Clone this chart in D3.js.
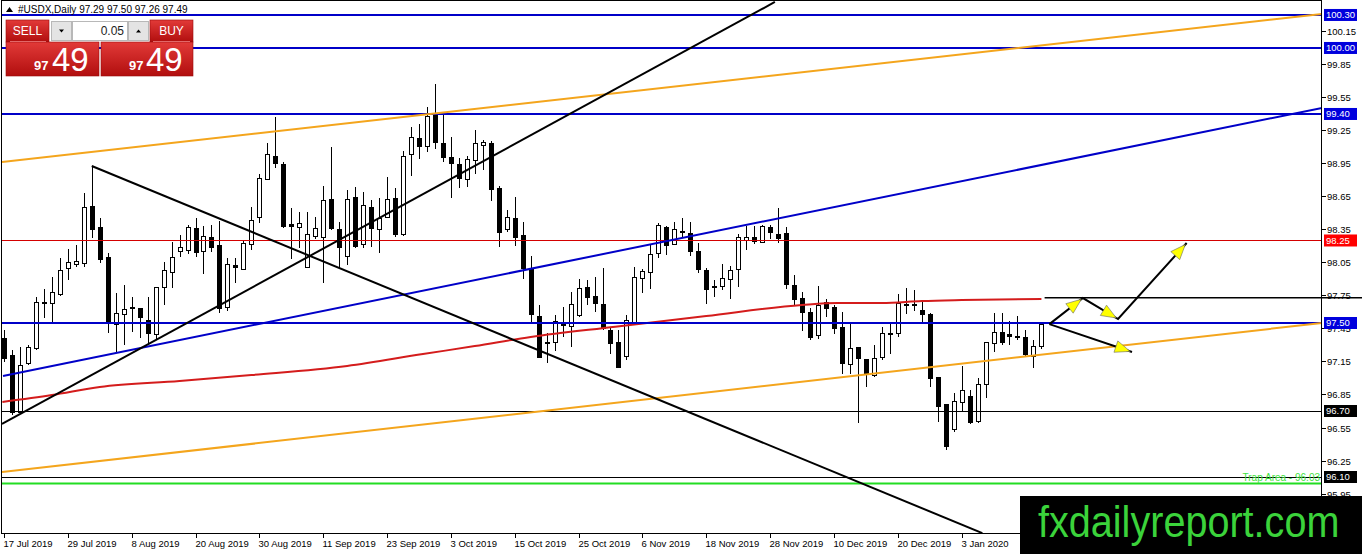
<!DOCTYPE html>
<html>
<head>
<meta charset="utf-8">
<script src="https://cdn.jsdelivr.net/npm/d3@7.9.0/dist/d3.min.js"></script>
<style>
  html, body { margin: 0; padding: 0; background: #fff; }
  svg { display: block; font-family: "Liberation Sans", Arial, sans-serif; }
</style>
</head>
<body>
<div id="chart"></div>
<script>
// daily candles, one row per bar: [open, high, low, close]
const candles = [
  [97.364, 97.436, 97.145, 97.182], [97.209, 97.255, 96.664, 96.691], [96.691, 97.282, 96.682, 97.118],
  [97.136, 97.300, 97.118, 97.282], [97.273, 97.736, 97.255, 97.691], [97.691, 97.809, 97.545, 97.682],
  [97.682, 97.918, 97.509, 97.782], [97.764, 98.091, 97.745, 97.982], [98.000, 98.173, 97.891, 98.055],
  [98.036, 98.209, 98.009, 98.064], [98.045, 98.682, 98.009, 98.555], [98.564, 98.927, 98.273, 98.355],
  [98.373, 98.455, 98.045, 98.082], [98.100, 98.136, 97.409, 97.500], [97.491, 97.773, 97.227, 97.591],
  [97.582, 97.845, 97.300, 97.627], [97.645, 97.736, 97.418, 97.636], [97.636, 97.636, 97.364, 97.555],
  [97.527, 97.736, 97.300, 97.409], [97.400, 97.827, 97.345, 97.827], [97.827, 98.055, 97.664, 97.982],
  [97.964, 98.236, 97.818, 98.100], [98.155, 98.300, 98.100, 98.191], [98.164, 98.391, 98.127, 98.373],
  [98.364, 98.455, 98.100, 98.145], [98.155, 98.382, 97.945, 98.291], [98.282, 98.391, 98.145, 98.191],
  [98.209, 98.427, 97.591, 97.636], [97.645, 98.091, 97.609, 98.036], [98.027, 98.091, 97.864, 98.009],
  [97.991, 98.255, 97.982, 98.227], [98.218, 98.555, 98.164, 98.436], [98.464, 98.855, 98.409, 98.818],
  [98.809, 99.136, 98.800, 99.036], [99.018, 99.373, 98.909, 98.955], [98.945, 98.964, 98.364, 98.382],
  [98.400, 98.545, 98.082, 98.382], [98.373, 98.509, 98.182, 98.409], [98.009, 98.509, 98.009, 98.309],
  [98.291, 98.464, 98.264, 98.364], [98.282, 98.745, 97.864, 98.618], [98.627, 99.100, 98.345, 98.364],
  [98.355, 98.418, 98.000, 98.191], [98.109, 98.709, 98.027, 98.627], [98.645, 98.736, 98.182, 98.200],
  [98.218, 98.691, 98.182, 98.573], [98.555, 98.618, 98.191, 98.364], [98.355, 98.636, 98.136, 98.455],
  [98.464, 98.827, 98.455, 98.627], [98.636, 98.727, 98.282, 98.309], [98.309, 99.064, 98.291, 99.018],
  [99.036, 99.282, 98.836, 99.191], [99.182, 99.309, 98.991, 99.109], [99.109, 99.464, 99.055, 99.382],
  [99.400, 99.673, 99.082, 99.145], [99.136, 99.400, 98.964, 99.009], [99.009, 99.191, 98.636, 98.955],
  [98.945, 99.000, 98.727, 98.818], [98.809, 99.018, 98.736, 98.991], [98.982, 99.255, 98.855, 99.136],
  [99.118, 99.164, 98.891, 99.145], [99.136, 99.155, 98.609, 98.718], [98.727, 98.745, 98.191, 98.327],
  [98.355, 98.527, 98.327, 98.464], [98.455, 98.645, 98.200, 98.282], [98.300, 98.418, 97.900, 98.000],
  [97.991, 98.109, 97.509, 97.582], [97.564, 97.664, 97.182, 97.191], [97.327, 97.409, 97.136, 97.318],
  [97.327, 97.573, 97.245, 97.518], [97.509, 97.645, 97.373, 97.482], [97.473, 97.782, 97.282, 97.673],
  [97.573, 97.900, 97.555, 97.818], [97.827, 97.891, 97.664, 97.736], [97.745, 97.918, 97.600, 97.682],
  [97.673, 98.000, 97.436, 97.455], [97.436, 97.455, 97.218, 97.318], [97.327, 97.436, 97.091, 97.100],
  [97.200, 97.573, 97.164, 97.527], [97.509, 98.009, 97.500, 97.918], [97.909, 97.991, 97.773, 97.973],
  [97.964, 98.209, 97.809, 98.127], [98.136, 98.409, 98.091, 98.391], [98.373, 98.382, 98.118, 98.209],
  [98.218, 98.418, 98.209, 98.355], [98.327, 98.455, 98.282, 98.336], [98.318, 98.418, 98.109, 98.155],
  [98.155, 98.227, 97.955, 97.991], [97.982, 98.000, 97.673, 97.809], [97.836, 97.891, 97.736, 97.827],
  [97.836, 98.036, 97.800, 97.909], [97.900, 98.018, 97.718, 97.982], [97.991, 98.309, 97.827, 98.282],
  [98.255, 98.382, 98.164, 98.282], [98.282, 98.382, 98.218, 98.245], [98.236, 98.391, 98.227, 98.382],
  [98.373, 98.391, 98.264, 98.327], [98.309, 98.545, 98.227, 98.273], [98.318, 98.373, 97.809, 97.855],
  [97.845, 97.936, 97.664, 97.718], [97.727, 97.782, 97.427, 97.600], [97.600, 97.636, 97.345, 97.373],
  [97.391, 97.836, 97.355, 97.664], [97.691, 97.718, 97.555, 97.636], [97.645, 97.664, 97.400, 97.455],
  [97.464, 97.600, 97.036, 97.136], [97.127, 97.509, 97.036, 97.273], [97.282, 97.282, 96.591, 97.182],
  [97.173, 97.173, 96.918, 97.045], [97.027, 97.300, 97.009, 97.182], [97.191, 97.464, 97.164, 97.409],
  [97.400, 97.500, 97.218, 97.409], [97.409, 97.764, 97.373, 97.682], [97.673, 97.818, 97.582, 97.664],
  [97.673, 97.800, 97.609, 97.664], [97.618, 97.700, 97.491, 97.582], [97.582, 97.591, 96.918, 97.000],
  [97.009, 97.009, 96.600, 96.745], [96.764, 96.764, 96.345, 96.382], [96.536, 96.864, 96.509, 96.791],
  [96.782, 97.109, 96.700, 96.891], [96.836, 96.891, 96.582, 96.600], [96.609, 97.000, 96.591, 96.945],
  [96.945, 97.327, 96.818, 97.327], [97.318, 97.591, 97.236, 97.418], [97.418, 97.591, 97.300, 97.327],
  [97.400, 97.518, 97.300, 97.382], [97.382, 97.564, 97.345, 97.373], [97.373, 97.436, 97.200, 97.218],
  [97.200, 97.345, 97.091, 97.291], [97.29, 97.50, 97.26, 97.49]
];

// moving average: [bar index, value]
const maPoints = [
  [-0.2, 96.782], [6, 96.845], [12, 96.918], [22, 96.973], [31, 97.027], [43, 97.109],
  [52.5, 97.218], [59, 97.29], [66, 97.373], [76.6, 97.466], [88, 97.564], [100, 97.664],
  [104.5, 97.682], [110, 97.682], [115, 97.70], [120, 97.709], [130, 97.718]
];

// date labels, one every 8 bars
const dateLabels = ['17 Jul 2019', '29 Jul 2019', '8 Aug 2019', '20 Aug 2019', '30 Aug 2019',
  '11 Sep 2019', '23 Sep 2019', '3 Oct 2019', '15 Oct 2019', '25 Oct 2019', '6 Nov 2019',
  '18 Nov 2019', '28 Nov 2019', '10 Dec 2019', '20 Dec 2019', '3 Jan 2020'];
const priceTicks = [95.95, 96.25, 96.55, 96.85, 97.15, 97.45, 97.75, 98.05, 98.35,
  98.65, 98.95, 99.25, 99.55, 99.85, 100.15];

// horizontal levels
const blueLevels = [100.30, 100.00, 99.40, 97.50];
const redLevels = [98.25];
const blackLevels = [96.70, 96.10];
const trapLevel = 96.04;
const pivotLevel = [130.4, 97.73]; // starts at the last bar

// trend lines: two anchors each, [bar index, price]
const orangeUpper = [[-0.25, 98.964], [165.16, 100.309]];
const orangeLower = [[-0.25, 96.145], [165.16, 97.50]];
const blueTrend = [[-0.125, 97.018], [165.16, 99.455]];
const blackRising = [[-0.25, 96.582], [96.6, 100.418]];
const blackFalling = [[11, 98.927], [122.6, 95.59]];

// scenario arrows
const arrowUp = [[131, 97.49], [135.2, 97.727], [139.6, 97.536], [148.2, 98.227]];
const arrowDown = [[131, 97.49], [141.35, 97.236]];

const W = 1362, H = 554;
const plot = { left: 2, right: 1322, top: 1, bottom: 533 };

const x = d3.scaleLinear().domain([-0.25, 165.16]).range([plot.left, plot.right]);
const y = d3.scaleLinear().domain([95.591, 100.427]).range([plot.bottom, plot.top]);

const svg = d3.select('#chart').append('svg')
  .attr('width', W).attr('height', H).attr('viewBox', `0 0 ${W} ${H}`);

const defs = svg.append('defs');
defs.append('clipPath').attr('id', 'plotClip').append('rect')
  .attr('x', plot.left).attr('y', plot.top)
  .attr('width', plot.right - plot.left).attr('height', plot.bottom - plot.top);
const grad = defs.append('linearGradient').attr('id', 'redGrad')
  .attr('x1', 0).attr('y1', 0).attr('x2', 0).attr('y2', 1);
grad.append('stop').attr('offset', '0%').attr('stop-color', '#e23a38');
grad.append('stop').attr('offset', '100%').attr('stop-color', '#b10e0e');

const chart = svg.append('g').attr('clip-path', 'url(#plotClip)');

// candles
const cg = chart.append('g').attr('shape-rendering', 'crispEdges');
candles.forEach(([o, h, l, c], i) => {
  const cx = Math.round(x(i)) + 0.5;
  cg.append('line').attr('x1', cx).attr('x2', cx)
    .attr('y1', y(h)).attr('y2', y(l)).attr('stroke', '#000');
  const top = Math.round(y(Math.max(o, c))) + 0.5;
  const bot = Math.round(y(Math.min(o, c))) + 0.5;
  cg.append('rect').attr('x', cx - 2).attr('y', top)
    .attr('width', 4).attr('height', Math.max(bot - top, 1))
    .attr('fill', c >= o ? '#fff' : '#000').attr('stroke', '#000');
});

const seg = (pts) => d3.line().x(d => x(d[0])).y(d => y(d[1]))(pts);

// moving average
chart.append('path').attr('d', d3.line().curve(d3.curveMonotoneX)
    .x(d => x(d[0])).y(d => y(d[1]))(maPoints))
  .attr('fill', 'none').attr('stroke', '#d41c1c').attr('stroke-width', 2);

// levels
const hline = (v, color, w) => {
  const ly = w === 1 ? Math.round(y(v)) + 0.5 : y(v);
  chart.append('line')
    .attr('x1', plot.left).attr('x2', plot.right).attr('y1', ly).attr('y2', ly)
    .attr('stroke', color).attr('stroke-width', w)
    .attr('shape-rendering', w === 1 ? 'crispEdges' : null);
};
redLevels.forEach(v => hline(v, '#d40000', 1));
blackLevels.forEach(v => hline(v, '#000', 1));
hline(trapLevel, '#22dd22', 2);
blueLevels.forEach(v => hline(v, '#0000c8', 2));

// trend lines
[[orangeUpper, '#f4a51c'], [orangeLower, '#f4a51c'], [blueTrend, '#0000c8'],
 [blackRising, '#000'], [blackFalling, '#000']].forEach(([pts, color]) => {
  chart.append('path').attr('d', seg(pts)).attr('fill', 'none')
    .attr('stroke', color).attr('stroke-width', 2);
});

chart.append('text').attr('x', plot.right - 2).attr('y', y(trapLevel) - 2.5)
  .attr('text-anchor', 'end').attr('font-size', 10).attr('fill', '#3ee23e')
  .text('Trap Area - 96.03');

// frame and axes
svg.append('rect').attr('x', plot.left - 0.5).attr('y', plot.top - 0.5)
  .attr('width', plot.right - plot.left).attr('height', plot.bottom - plot.top + 0.5)
  .attr('fill', 'none').attr('stroke', '#000').attr('shape-rendering', 'crispEdges');

const xa = svg.append('g').attr('font-size', 9.5).attr('fill', '#000');
dateLabels.forEach((lab, k) => {
  const tx = Math.round(x(k * 8)) + 0.5;
  xa.append('line').attr('x1', tx).attr('x2', tx).attr('y1', plot.bottom).attr('y2', plot.bottom + 5)
    .attr('stroke', '#000').attr('shape-rendering', 'crispEdges');
  xa.append('text').attr('x', tx - 1).attr('y', plot.bottom + 14).text(lab);
});

const ya = svg.append('g').attr('font-size', 9.5);
priceTicks.forEach(v => {
  const ty = Math.round(y(v)) + 0.5;
  ya.append('line').attr('x1', plot.right).attr('x2', plot.right + 4).attr('y1', ty).attr('y2', ty)
    .attr('stroke', '#000').attr('shape-rendering', 'crispEdges');
  ya.append('text').attr('x', plot.right + 5).attr('y', ty).attr('dy', '0.35em').text(v.toFixed(2));
});

// short pivot line runs over the axis
svg.append('line').attr('x1', x(pivotLevel[0])).attr('x2', W)
  .attr('y1', y(pivotLevel[1])).attr('y2', y(pivotLevel[1]))
  .attr('stroke', '#000').attr('stroke-width', 1.5);

// boxed level labels
const tag = (v, bg) => {
  const ty = y(v);
  ya.append('rect').attr('x', plot.right + 2).attr('y', ty - 6).attr('width', 33).attr('height', 12)
    .attr('fill', bg);
  ya.append('text').attr('x', plot.right + 4).attr('y', ty).attr('dy', '0.35em')
    .attr('fill', '#fff').text(v.toFixed(2));
};
blueLevels.forEach(v => tag(v, '#0000dd'));
redLevels.forEach(v => tag(v, '#ff0000'));
blackLevels.forEach(v => tag(v, '#000'));

// arrows
const arrows = svg.append('g');
[arrowUp, arrowDown].forEach(pts => {
  arrows.append('path').attr('d', seg(pts)).attr('fill', 'none')
    .attr('stroke', '#000').attr('stroke-width', 2);
  for (let k = 1; k < pts.length; k++) {
    const x0 = x(pts[k - 1][0]), y0 = y(pts[k - 1][1]);
    const x1 = x(pts[k][0]), y1 = y(pts[k][1]);
    const len = Math.hypot(x1 - x0, y1 - y0);
    const ux = (x1 - x0) / len, uy = (y1 - y0) / len;
    const tx = x1 - ux * 2, ty = y1 - uy * 2;
    const bx = tx - ux * 15, by = ty - uy * 15;
    arrows.append('path')
      .attr('d', `M${tx},${ty}L${bx - uy * 6},${by + ux * 6}L${bx + uy * 6},${by - ux * 6}Z`)
      .attr('fill', '#ffff00').attr('stroke', '#666').attr('stroke-width', 0.6);
  }
});

// header
const head = svg.append('g');
head.append('path').attr('d', 'M6,12L9.5,7L13,12Z').attr('fill', '#000');
head.append('text').attr('x', 18).attr('y', 13).attr('font-size', 10)
  .text('#USDX,Daily  97.29 97.50 97.26 97.49');

// one-click trading panel
const panel = svg.append('g');
const redBox = (bx, by, bw, bh) => panel.append('rect').attr('x', bx).attr('y', by)
  .attr('width', bw).attr('height', bh).attr('fill', 'url(#redGrad)')
  .attr('stroke', '#9a0a0a').attr('stroke-width', 0.6);
redBox(6, 20, 43, 22);
redBox(150, 20, 43, 22);
redBox(6, 42, 93, 34);
redBox(101, 42, 92, 34);
panel.append('line').attr('x1', 10).attr('x2', 46).attr('y1', 41.5).attr('y2', 41.5)
  .attr('stroke', '#f08080').attr('stroke-width', 0.8);
panel.append('line').attr('x1', 153).attr('x2', 190).attr('y1', 41.5).attr('y2', 41.5)
  .attr('stroke', '#f08080').attr('stroke-width', 0.8);
panel.append('rect').attr('x', 51.5).attr('y', 21.5).attr('width', 20).attr('height', 19)
  .attr('fill', '#e4e4e4').attr('stroke', '#b8b8b8');
panel.append('rect').attr('x', 72.5).attr('y', 21.5).attr('width', 55).attr('height', 19)
  .attr('fill', '#fff').attr('stroke', '#b8b8b8');
panel.append('rect').attr('x', 128.5).attr('y', 21.5).attr('width', 20).attr('height', 19)
  .attr('fill', '#e4e4e4').attr('stroke', '#b8b8b8');
panel.append('path').attr('d', 'M59,29.5L64,29.5L61.5,32.5Z').attr('fill', '#000');
panel.append('path').attr('d', 'M136,32.5L141,32.5L138.5,29.5Z').attr('fill', '#000');
panel.append('text').attr('x', 124).attr('y', 35).attr('text-anchor', 'end')
  .attr('font-size', 12).attr('fill', '#222').text('0.05');
panel.append('text').attr('x', 27.5).attr('y', 35).attr('text-anchor', 'middle')
  .attr('font-size', 12).attr('fill', '#fff').text('SELL');
panel.append('text').attr('x', 171.5).attr('y', 35).attr('text-anchor', 'middle')
  .attr('font-size', 12).attr('fill', '#fff').text('BUY');
[[34, 52], [129, 146]].forEach(([sx, bx]) => {
  panel.append('text').attr('x', sx).attr('y', 70).attr('font-size', 13)
    .attr('font-weight', 'bold').attr('fill', '#fff').text('97');
  panel.append('text').attr('x', bx).attr('y', 71).attr('font-size', 33)
    .attr('fill', '#fff').text('49');
});

// watermark, squeezed horizontally like the original
svg.append('rect').attr('x', 1020).attr('y', 496).attr('width', W - 1020).attr('height', H - 496)
  .attr('fill', '#000');
svg.append('text').attr('transform', 'translate(1038,537) scale(0.9,1)')
  .attr('font-size', 44).attr('fill', '#3bd33b')
  .text('fxdailyreport.com');
</script>
</body>
</html>
